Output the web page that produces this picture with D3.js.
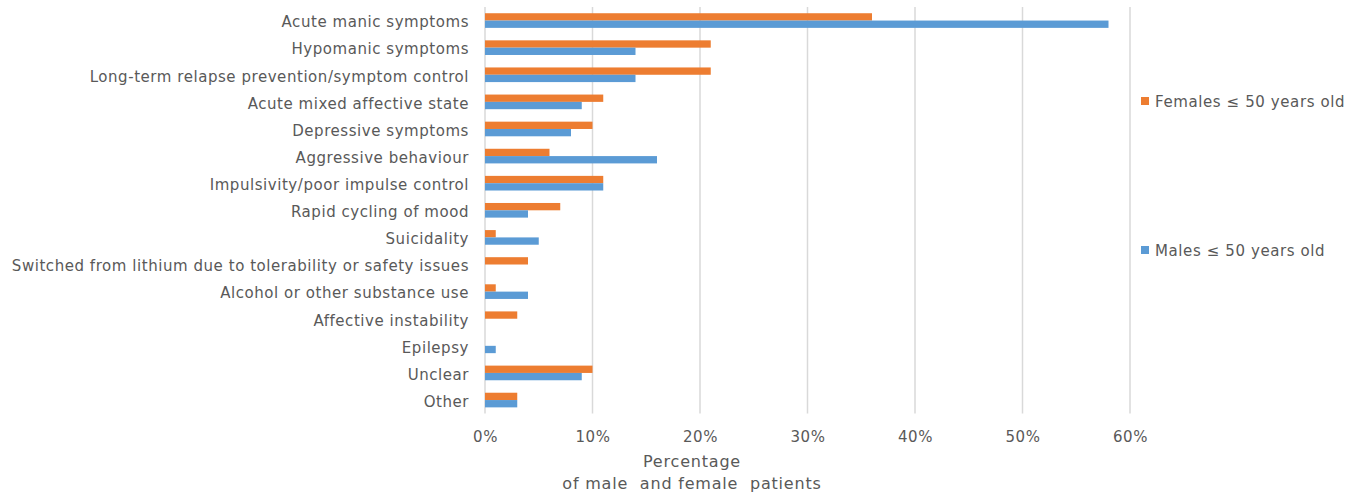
<!DOCTYPE html>
<html>
<head>
<meta charset="utf-8">
<script src="https://cdn.jsdelivr.net/npm/d3@7"></script>
<style>
  body { margin: 0; background: #fff; }
  svg text { font-family: "DejaVu Sans", Verdana, sans-serif; fill: #595959; }
</style>
</head>
<body>
<script>
(function(){
    // Chart data (percent of patients)
    var categories = [
        "Acute manic symptoms",
        "Hypomanic symptoms",
        "Long-term relapse prevention/symptom control",
        "Acute mixed affective state",
        "Depressive symptoms",
        "Aggressive behaviour",
        "Impulsivity/poor impulse control",
        "Rapid cycling of mood",
        "Suicidality",
        "Switched from lithium due to tolerability or safety issues",
        "Alcohol or other substance use",
        "Affective instability",
        "Epilepsy",
        "Unclear",
        "Other"
    ];
    var femaleValues = [36, 21, 21, 11, 10, 6, 11, 7, 1, 4, 1, 3, 0, 10, 3];
    var maleValues   = [58, 14, 14,  9,  8, 16, 11, 4, 5, 0, 4, 0, 1,  9, 3];
    var seriesNames  = ["Females \u2264 50 years old", "Males \u2264 50 years old"];
    var seriesColors = ["#ED7D31", "#5B9BD5"];
    var tickValues   = [0, 10, 20, 30, 40, 50, 60];

    var width = 1361, height = 494;
    var plot = { left: 485, right: 1130, top: 7, bottom: 413.6 };

    var svg = d3.select("body").append("svg")
        .attr("width", width)
        .attr("height", height);

    var x = d3.scaleLinear()
        .domain([0, 60])
        .range([plot.left, plot.right]);

    var y = d3.scaleBand()
        .domain(categories)
        .range([plot.top, plot.bottom])
        .paddingInner(0.46)
        .paddingOuter(0.23);

    var ySub = d3.scaleBand()
        .domain([0, 1])
        .range([0, y.bandwidth()]);

    // Vertical gridlines
    svg.append("g")
        .selectAll("line")
        .data(tickValues)
        .enter()
        .append("line")
        .attr("x1", d => x(d))
        .attr("x2", d => x(d))
        .attr("y1", plot.top)
        .attr("y2", plot.bottom)
        .attr("stroke", "#d9d9d9")
        .attr("stroke-width", 1.5);

    // Bars: one group per category, female on top, male below
    var rows = categories.map(function(c, i){
        return { name: c, values: [femaleValues[i], maleValues[i]] };
    });

    var groups = svg.append("g")
        .selectAll("g")
        .data(rows)
        .enter()
        .append("g")
        .attr("transform", d => `translate(0,${y(d.name)})`);

    groups.selectAll("rect")
        .data(d => d.values.map((v, k) => ({ k: k, v: v })))
        .enter()
        .append("rect")
        .filter(d => d.v > 0)
        .attr("x", x(0))
        .attr("y", d => ySub(d.k))
        .attr("width", d => x(d.v) - x(0))
        .attr("height", ySub.bandwidth())
        .attr("fill", d => seriesColors[d.k]);

    // Category labels
    var yAxis = d3.axisLeft(y).tickSize(0).tickPadding(0);
    var yg = svg.append("g")
        .attr("transform", `translate(${plot.left - 16},2)`)
        .call(yAxis);
    yg.select(".domain").remove();
    yg.selectAll("text")
        .style("font-size", "15px")
        .style("letter-spacing", "0.55px")
        .attr("fill", "#595959");

    // X axis tick labels
    var xAxis = d3.axisBottom(x)
        .tickValues(tickValues)
        .tickFormat(d => d + "%")
        .tickSize(0)
        .tickPadding(0);
    var xg = svg.append("g")
        .attr("transform", `translate(0,${plot.bottom + 18})`)
        .call(xAxis);
    xg.select(".domain").remove();
    xg.selectAll("text")
        .style("font-size", "15px")
        .style("letter-spacing", "0.6px")
        .attr("fill", "#595959");

    // Axis title (two lines)
    var title = svg.append("text")
        .attr("text-anchor", "middle")
        .style("font-size", "16px")
        .style("letter-spacing", "0.8px")
        .style("white-space", "pre");
    title.append("tspan").attr("x", 692).attr("y", 467).text("Percentage");
    title.append("tspan").attr("x", 692).attr("y", 489).text("of male  and female  patients");

    // Legend
    var legendY = [101, 250];
    var legend = svg.append("g")
        .selectAll("g")
        .data(seriesNames)
        .enter()
        .append("g")
        .attr("transform", (d, i) => `translate(1141,${legendY[i]})`);
    legend.append("rect")
        .attr("x", 0)
        .attr("y", -4)
        .attr("width", 8)
        .attr("height", 8)
        .attr("fill", (d, i) => seriesColors[i]);
    legend.append("text")
        .attr("x", 14)
        .attr("y", 1)
        .attr("dy", "0.35em")
        .style("font-size", "15px")
        .style("letter-spacing", "0.6px")
        .text(d => d);
})();
</script>
</body>
</html>
